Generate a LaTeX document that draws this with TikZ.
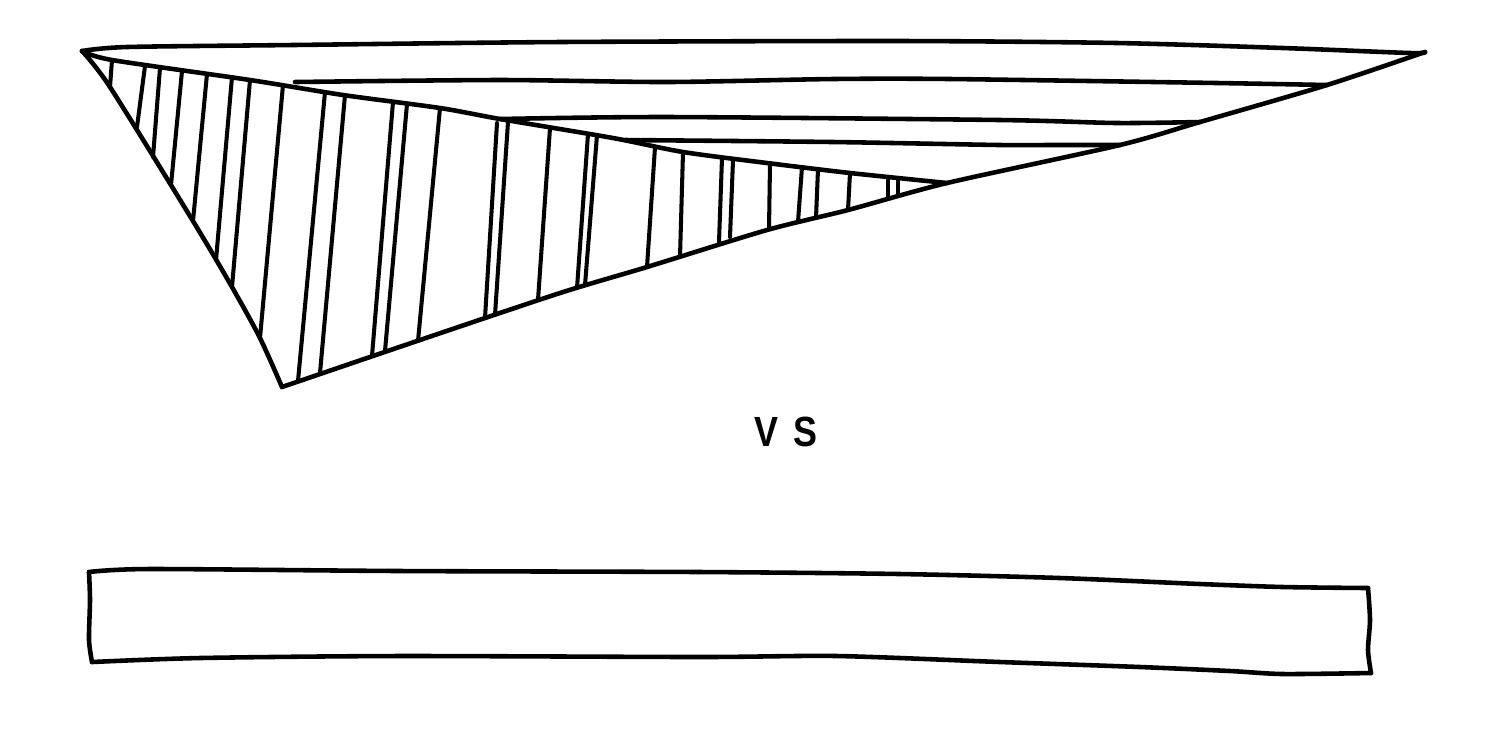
\documentclass[tikz,border=0pt]{standalone}
\usepackage{fontspec}
\newfontfamily\handfont{Liberation Sans}
\begin{document}
\begin{tikzpicture}[x=0.01cm,y=-0.01cm,
  ink/.style={line width=1.3pt, line cap=round, line join=round},
  hatchline/.style={line width=1.15pt, line cap=round},
  wobble/.style={smooth, tension=0.45}]
\useasboundingbox (0,0) rectangle (1500,729);
% key vertices
\coordinate (A) at (82,51);
\coordinate (B) at (1425,52);
\coordinate (C) at (282,387);
\coordinate (D) at (947,183);
% outer top edge
\draw[ink] plot[wobble] coordinates {(A) (127,47) (293,45) (560,42) (900,41) (1117,43) (1283,48) (1410,53) (B)};
% left edge A-C
\draw[ink] plot[wobble] coordinates {(A) (110,87) (193,221) (232,287) (260,338) (C)};
% lower right edge C-B
\draw[ink] plot[wobble] coordinates {(C) (420,340) (560,293) (647,267) (767,230) (848,210) (D) (1120,145) (1200,122) (1327,85) (B)};
% inner edge A-D
\draw[ink] plot[wobble] coordinates {(A) (112,60) (250,80) (343,95) (440,108) (500,119) (613,138) (683,152) (767,163) (850,173) (D)};
% horizontal stripes
\draw[ink] plot[wobble] coordinates {(295,82) (500,80) (667,82) (833,79) (950,79) (1217,83) (1327,85)};
\draw[ink] plot[wobble] coordinates {(500,119) (667,117) (1000,120) (1117,123) (1200,122)};
\draw[ink] plot[wobble] coordinates {(625,140) (833,142) (1000,145) (1050,145) (1120,145)};
% vertical hatching
\foreach \xa/\ya/\xb/\yb in {
  112/60/110/87, 145/66/137/127, 160/68/153/157, 182/71/171/185,
  207/74/193/221, 232/77/216/260, 250/80/232/287, 283/85/260/338,
  325/92/298/381, 345/95/320/373, 393/102/372/356, 407/104/385/351,
  440/108/418/341, 497/123/485/318, 508/122/495/315, 550/128/538/300,
  588/134/577/288, 597/135/585/285, 655/147/647/267, 683/152/680/257,
  722/158/719/242, 733/160/730/237, 770/164/769/229, 802/167/798/222,
  818/169/816/218, 850/173/848/210, 888/177/888/199, 898/178/898/196}
  \draw[hatchline] (\xa,\ya) -- (\xb,\yb);
% label
\node[font=\handfont\bfseries\fontsize{12}{14}\selectfont, inner sep=0pt] (vs) at (786,432) {\scalebox{0.85}[1]{V\hspace{0.4em}S}};
% rectangle
\coordinate (TL) at (89,572);
\coordinate (TR) at (1368,588);
\coordinate (BR) at (1371,673);
\coordinate (BL) at (92,662);
\draw[ink] plot[wobble] coordinates {(TL) (150,569) (400,571) (700,572) (900,574) (1060,578) (1200,584) (1283,587) (TR)};
\draw[ink] plot[wobble] coordinates {(TR) (1370,620) (1368,650) (BR)};
\draw[ink] plot[wobble] coordinates {(BR) (1283,674) (1230,671) (1140,667) (1000,662) (837,656) (700,657) (400,656) (200,658) (BL)};
\draw[ink] plot[wobble] coordinates {(BL) (89,640) (90,600) (TL)};
\end{tikzpicture}
\end{document}
